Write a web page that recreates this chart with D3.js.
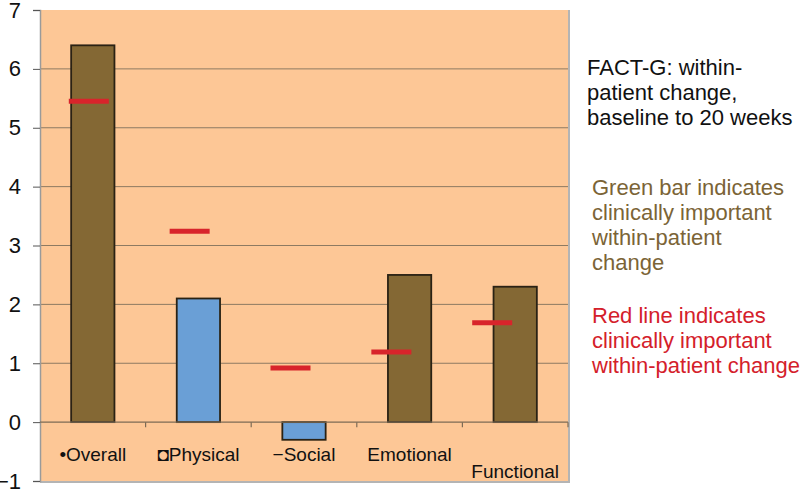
<!DOCTYPE html>
<html>
<head>
<meta charset="utf-8">
<script src="https://d3js.org/d3.v7.min.js"></script>
<style>
  body { margin: 0; background: #fff; }
  svg { display: block; font-family: "Liberation Sans", Arial, sans-serif; }
</style>
</head>
<body>
<svg id="chart" width="800" height="489"></svg>
<script>
// data
let categories = ["Overall", "Physical", "Social", "Emotional", "Functional"];
let labels = ["\u2022Overall", "\u25D8Physical", "\u2212Social", "Emotional", "Functional"];
let change = [6.4, 2.1, -0.3, 2.5, 2.3];
let important = [true, false, false, true, true];   // green (brown) bar = clinically important
let threshold = [5.45, 3.24, 0.92, 1.19, 1.69];    // red line values
let yTicks = [-1, 0, 1, 2, 3, 4, 5, 6, 7];

let margin = {top: 10, left: 40};
let plotW = 528, plotH = 471;

let svg = d3.select("#chart");
let g = svg.append("g").attr("transform", "translate(" + margin.left + "," + margin.top + ")");

let x = d3.scaleBand().domain(categories).range([0, plotW]);
let y = d3.scaleLinear().domain([-1, 7]).range([plotH, 0]);
// red markers sit a little left of the bar centres, drifting with the index
let xm = d3.scalePoint().domain(categories).range([x.bandwidth() / 2 - 4, plotW - x.bandwidth() / 2 - 23]);

// plot area
g.append("rect")
  .attr("width", plotW).attr("height", plotH)
  .attr("fill", "#fdc796");

// gridlines
g.selectAll(".grid")
  .data(yTicks.filter(d => d > 0 && d < 7))
  .enter().append("line")
  .attr("x1", 0).attr("x2", plotW)
  .attr("y1", d => y(d)).attr("y2", d => y(d))
  .attr("stroke", "#8d7a62").attr("stroke-width", 1);

// border (right / bottom) and left axis
g.append("line").attr("x1", plotW + 1).attr("x2", plotW + 1).attr("y1", 0).attr("y2", plotH + 1)
  .attr("stroke", "#b4b4b4").attr("stroke-width", 2);
g.append("line").attr("x1", 0).attr("x2", plotW + 2).attr("y1", plotH + 1).attr("y2", plotH + 1)
  .attr("stroke", "#b4b4b4").attr("stroke-width", 2);

let yAxis = g.append("g")
  .call(d3.axisLeft(y).tickValues(yTicks).tickSize(7).tickPadding(12).tickFormat(d3.format("d")));
yAxis.select(".domain").attr("stroke", "#9a9a9a").attr("stroke-width", 1.5);
yAxis.selectAll(".tick line").attr("stroke", "#555");
yAxis.selectAll("text").attr("font-size", "22px").attr("fill", "#111")
  .attr("font-family", "Liberation Sans, Arial, sans-serif");

// bars
g.selectAll(".bar")
  .data(categories)
  .enter().append("rect")
  .attr("x", (d) => x(d) + x.bandwidth() * 0.295)
  .attr("width", x.bandwidth() * 0.41)
  .attr("y", (d, i) => y(Math.max(0, change[i])))
  .attr("height", (d, i) => Math.abs(y(change[i]) - y(0)))
  .attr("fill", (d, i) => important[i] ? "#846834" : "#6a9fd6")
  .attr("stroke", "#2a2214").attr("stroke-width", 1.8);

// zero line with category ticks
g.append("line").attr("x1", 0).attr("x2", plotW).attr("y1", y(0)).attr("y2", y(0))
  .attr("stroke", "#7d6b55").attr("stroke-width", 1.2);
g.selectAll(".ctick")
  .data(categories.slice(1).concat(["end"]))
  .enter().append("line")
  .attr("x1", d => d === "end" ? plotW : x(d)).attr("x2", d => d === "end" ? plotW : x(d))
  .attr("y1", y(0)).attr("y2", y(0) + 5)
  .attr("stroke", "#7d6b55").attr("stroke-width", 1.2);

// red threshold lines
g.selectAll(".mark")
  .data(categories)
  .enter().append("line")
  .attr("x1", d => xm(d) - 20).attr("x2", d => xm(d) + 20)
  .attr("y1", (d, i) => y(threshold[i])).attr("y2", (d, i) => y(threshold[i]))
  .attr("stroke", "#d8242b").attr("stroke-width", 5);

// category labels
g.selectAll(".clabel")
  .data(categories)
  .enter().append("text")
  .attr("x", d => x(d) + x.bandwidth() / 2)
  .attr("y", (d, i) => i === 4 ? y(0) + 56 : y(0) + 39)
  .attr("text-anchor", "middle")
  .attr("font-size", "19px").attr("fill", "#111")
  .text((d, i) => labels[i]);

// annotations on the right
function block(lines, x0, y0, color) {
  svg.append("text")
    .attr("x", x0).attr("y", y0)
    .attr("font-size", "22px").attr("fill", color)
    .selectAll("tspan").data(lines).enter().append("tspan")
    .attr("x", x0).attr("dy", (d, i) => i === 0 ? 0 : 25)
    .text(d => d);
}
block(["FACT-G: within-", "patient change,", "baseline to 20 weeks"], 587, 75, "#111");
block(["Green bar indicates", "clinically important", "within-patient", "change"], 592, 195, "#7b6436");
block(["Red line indicates", "clinically important", "within-patient change"], 592, 323, "#d4202a");
</script>
</body>
</html>
